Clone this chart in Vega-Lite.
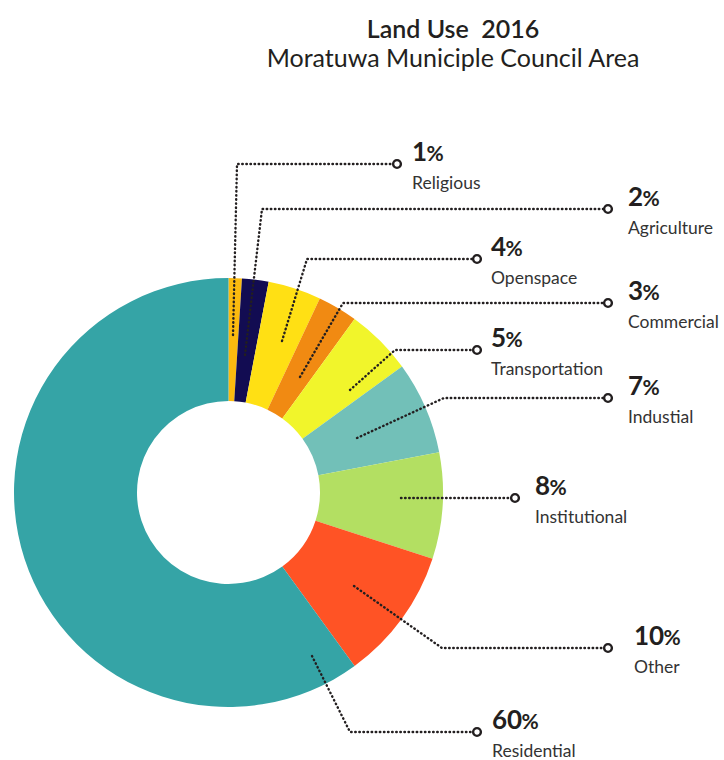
{
  "$schema": "https://vega.github.io/schema/vega-lite/v6.json",
  "width": 724,
  "height": 760,
  "autosize": "none",
  "padding": 0,
  "background": "white",
  "config": {"view": {"stroke": null}, "font": "Lato"},
  "title": {
    "text": "Land Use \u00a02016",
    "subtitle": "Moratuwa Municiple Council Area",
    "anchor": "middle",
    "frame": "group",
    "dx": 91,
    "offset": -72,
    "font": "Lato",
    "fontSize": 25,
    "fontWeight": 600,
    "color": "#231f20",
    "subtitleFont": "Lato",
    "subtitleFontSize": 25,
    "subtitleColor": "#231f20",
    "subtitlePadding": 4
  },
  "datasets": {
    "slices": [
      {"category": "Religious", "value": 1, "order": 1},
      {"category": "Agriculture", "value": 2, "order": 2},
      {"category": "Openspace", "value": 4, "order": 3},
      {"category": "Commercial", "value": 3, "order": 4},
      {"category": "Transportation", "value": 5, "order": 5},
      {"category": "Industial", "value": 7, "order": 6},
      {"category": "Institutional", "value": 8, "order": 7},
      {"category": "Other", "value": 10, "order": 8},
      {"category": "Residential", "value": 60, "order": 9}
    ],
    "leaders": [
      {"category": "Religious", "step": 0, "x": 233, "y": 335},
      {"category": "Religious", "step": 1, "x": 237, "y": 164},
      {"category": "Religious", "step": 2, "x": 397, "y": 164},
      {"category": "Agriculture", "step": 0, "x": 245, "y": 355},
      {"category": "Agriculture", "step": 1, "x": 262, "y": 209},
      {"category": "Agriculture", "step": 2, "x": 608, "y": 209},
      {"category": "Openspace", "step": 0, "x": 282, "y": 341},
      {"category": "Openspace", "step": 1, "x": 307, "y": 259},
      {"category": "Openspace", "step": 2, "x": 477, "y": 259},
      {"category": "Commercial", "step": 0, "x": 300, "y": 377},
      {"category": "Commercial", "step": 1, "x": 343, "y": 303},
      {"category": "Commercial", "step": 2, "x": 608, "y": 303},
      {"category": "Transportation", "step": 0, "x": 350, "y": 390},
      {"category": "Transportation", "step": 1, "x": 395, "y": 350},
      {"category": "Transportation", "step": 2, "x": 477, "y": 350},
      {"category": "Industial", "step": 0, "x": 357, "y": 438},
      {"category": "Industial", "step": 1, "x": 444, "y": 398},
      {"category": "Industial", "step": 2, "x": 608, "y": 398},
      {"category": "Institutional", "step": 0, "x": 401, "y": 498},
      {"category": "Institutional", "step": 2, "x": 515, "y": 498},
      {"category": "Other", "step": 0, "x": 354, "y": 586},
      {"category": "Other", "step": 1, "x": 442, "y": 648},
      {"category": "Other", "step": 2, "x": 608, "y": 648},
      {"category": "Residential", "step": 0, "x": 312, "y": 656},
      {"category": "Residential", "step": 1, "x": 350, "y": 732},
      {"category": "Residential", "step": 2, "x": 477, "y": 732}
    ],
    "labels": [
      {"category": "Religious", "num": 1, "lx": 412, "ly": 164},
      {"category": "Agriculture", "num": 2, "lx": 628, "ly": 209},
      {"category": "Openspace", "num": 4, "lx": 491, "ly": 259},
      {"category": "Commercial", "num": 3, "lx": 628, "ly": 303},
      {"category": "Transportation", "num": 5, "lx": 491, "ly": 350},
      {"category": "Industial", "num": 7, "lx": 628, "ly": 398},
      {"category": "Institutional", "num": 8, "lx": 535, "ly": 498},
      {"category": "Other", "num": 10, "lx": 634, "ly": 648},
      {"category": "Residential", "num": 60, "lx": 492, "ly": 732}
    ]
  },
  "layer": [
    {
      "data": {"name": "slices"},
      "mark": {"type": "arc", "outerRadius": 214.5, "innerRadius": 91.5},
      "encoding": {
        "theta": {"field": "value", "type": "quantitative", "stack": true},
        "order": {"field": "order", "type": "quantitative"},
        "color": {
          "field": "category",
          "type": "nominal",
          "legend": null,
          "scale": {
            "domain": ["Religious", "Agriculture", "Openspace", "Commercial", "Transportation", "Industial", "Institutional", "Other", "Residential"],
            "range": ["#fbba0f", "#120c52", "#ffe014", "#f18a12", "#f1f52b", "#72c0b8", "#b3df62", "#ff5325", "#35a4a6"]
          }
        },
        "x": {"datum": 228.5, "type": "quantitative", "scale": {"domain": [0, 724], "nice": false, "zero": false}, "axis": null},
        "y": {"datum": 492.5, "type": "quantitative", "scale": {"domain": [0, 760], "nice": false, "zero": false, "reverse": true}, "axis": null}
      }
    },
    {
      "data": {"name": "leaders"},
      "mark": {"type": "line", "color": "#231f20", "strokeWidth": 2.4, "strokeDash": [0.5, 3.6], "strokeCap": "round"},
      "encoding": {
        "x": {"field": "x", "type": "quantitative", "scale": {"domain": [0, 724], "nice": false, "zero": false}, "axis": null},
        "y": {"field": "y", "type": "quantitative", "scale": {"domain": [0, 760], "nice": false, "zero": false, "reverse": true}, "axis": null},
        "detail": {"field": "category"},
        "order": {"field": "step", "type": "quantitative"}
      }
    },
    {
      "data": {"name": "leaders"},
      "transform": [{"filter": "datum.step == 2"}],
      "mark": {"type": "point", "shape": "circle", "filled": true, "fill": "white", "stroke": "#231f20", "strokeWidth": 2.4, "size": 60, "opacity": 1},
      "encoding": {
        "x": {"field": "x", "type": "quantitative", "scale": {"domain": [0, 724], "nice": false, "zero": false}, "axis": null},
        "y": {"field": "y", "type": "quantitative", "scale": {"domain": [0, 760], "nice": false, "zero": false, "reverse": true}, "axis": null}
      }
    },
    {
      "data": {"name": "labels"},
      "mark": {"type": "text", "align": "left", "baseline": "alphabetic", "fontSize": 26, "fontWeight": "bold", "color": "#231f20", "dy": -3, "font": "Lato"},
      "encoding": {
        "x": {"field": "lx", "type": "quantitative", "scale": {"domain": [0, 724], "nice": false, "zero": false}, "axis": null},
        "y": {"field": "ly", "type": "quantitative", "scale": {"domain": [0, 760], "nice": false, "zero": false, "reverse": true}, "axis": null},
        "text": {"field": "num", "type": "quantitative"}
      }
    },
    {
      "data": {"name": "labels"},
      "transform": [{"filter": "datum.num < 10"}],
      "mark": {"type": "text", "text": "%", "align": "left", "baseline": "alphabetic", "fontSize": 21, "fontWeight": "bold", "color": "#231f20", "dx": 14.5, "dy": -3, "font": "Lato"},
      "encoding": {
        "x": {"field": "lx", "type": "quantitative", "scale": {"domain": [0, 724], "nice": false, "zero": false}, "axis": null},
        "y": {"field": "ly", "type": "quantitative", "scale": {"domain": [0, 760], "nice": false, "zero": false, "reverse": true}, "axis": null}
      }
    },
    {
      "data": {"name": "labels"},
      "transform": [{"filter": "datum.num >= 10"}],
      "mark": {"type": "text", "text": "%", "align": "left", "baseline": "alphabetic", "fontSize": 21, "fontWeight": "bold", "color": "#231f20", "dx": 29.5, "dy": -3, "font": "Lato"},
      "encoding": {
        "x": {"field": "lx", "type": "quantitative", "scale": {"domain": [0, 724], "nice": false, "zero": false}, "axis": null},
        "y": {"field": "ly", "type": "quantitative", "scale": {"domain": [0, 760], "nice": false, "zero": false, "reverse": true}, "axis": null}
      }
    },
    {
      "data": {"name": "labels"},
      "mark": {"type": "text", "align": "left", "baseline": "alphabetic", "fontSize": 17.5, "color": "#333333", "dy": 25, "font": "Lato"},
      "encoding": {
        "x": {"field": "lx", "type": "quantitative", "scale": {"domain": [0, 724], "nice": false, "zero": false}, "axis": null},
        "y": {"field": "ly", "type": "quantitative", "scale": {"domain": [0, 760], "nice": false, "zero": false, "reverse": true}, "axis": null},
        "text": {"field": "category"}
      }
    }
  ]
}
